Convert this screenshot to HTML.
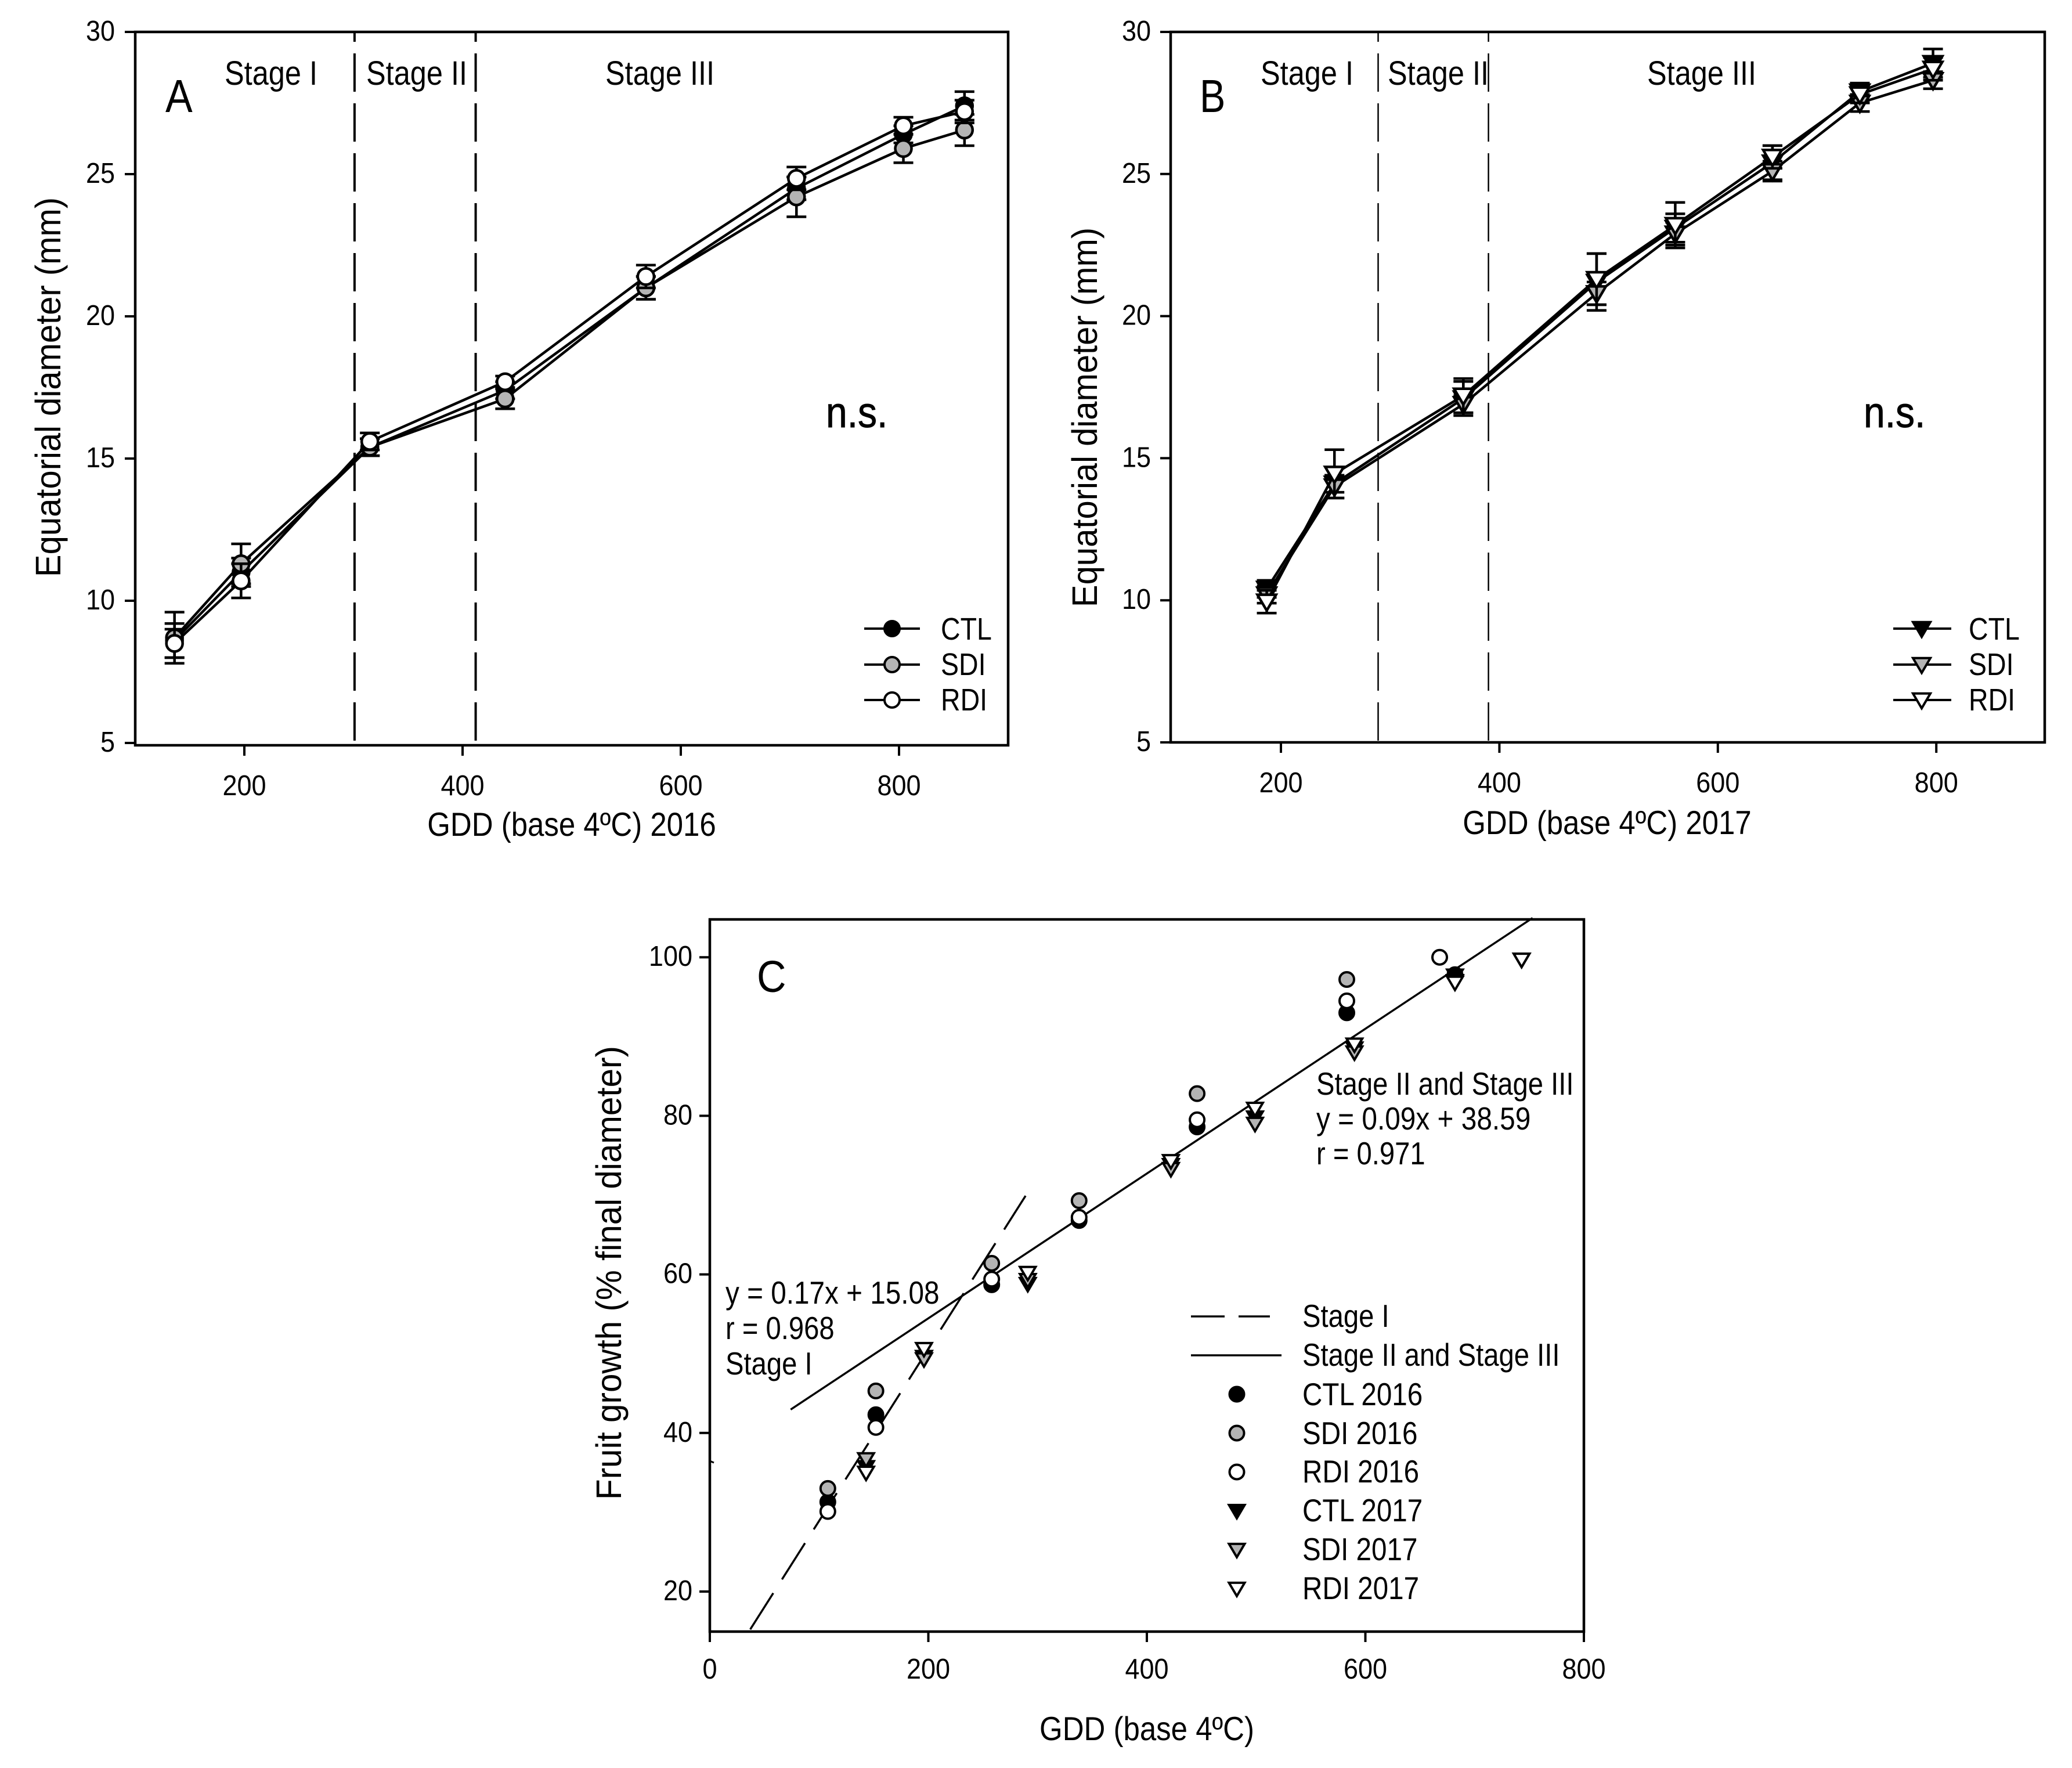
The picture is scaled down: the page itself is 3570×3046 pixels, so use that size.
<!DOCTYPE html>
<html>
<head>
<meta charset="utf-8">
<title>Fruit growth charts</title>
<style>
html,body{margin:0;padding:0;background:#fff;}
svg{display:block;}
text{font-family:"Liberation Sans",Arial,sans-serif;fill:#000;}
</style>
</head>
<body>
<svg id="fig" xmlns="http://www.w3.org/2000/svg" width="3570" height="3046" viewBox="0 0 3570 3046">
<rect width="3570" height="3046" fill="#fff"/>
<g id="A"></g>
<g id="B"></g>
<g id="C"></g>

<text transform="translate(285,193) scale(1,1.14)" font-size="70">A</text>
<text transform="translate(387,146) scale(1,1.15)" font-size="50.5">Stage I</text>
<text transform="translate(631,146) scale(1,1.15)" font-size="50.5">Stage II</text>
<text transform="translate(1043,146) scale(1,1.15)" font-size="50.5">Stage III</text>
<text transform="translate(1423,736) scale(1,1.12)" font-size="66" stroke="#000" stroke-width="0.8">n.s.</text>
<text transform="translate(985,1440) scale(1,1.12)" font-size="51" text-anchor="middle">GDD (base 4ºC) 2016</text>
<text transform="translate(104,667) rotate(-90) scale(1,1.05)" font-size="58" text-anchor="middle">Equatorial diameter (mm)</text>
<text transform="translate(1621,1102) scale(1,1.15)" font-size="46.5">CTL</text>
<text transform="translate(1621,1163) scale(1,1.15)" font-size="46.5">SDI</text>
<text transform="translate(1621,1224) scale(1,1.15)" font-size="46.5">RDI</text>

<text transform="translate(2067,193) scale(0.95,1.14)" font-size="70">B</text>
<text transform="translate(2172,146) scale(1,1.15)" font-size="50.5">Stage I</text>
<text transform="translate(2391,146) scale(1,1.15)" font-size="50.5">Stage II</text>
<text transform="translate(2838,146) scale(1,1.15)" font-size="50.5">Stage III</text>
<text transform="translate(3211,736) scale(1,1.12)" font-size="66" stroke="#000" stroke-width="0.8">n.s.</text>
<text transform="translate(2769,1437) scale(1,1.12)" font-size="51" text-anchor="middle">GDD (base 4ºC) 2017</text>
<text transform="translate(1890,719) rotate(-90) scale(1,1.05)" font-size="58" text-anchor="middle">Equatorial diameter (mm)</text>
<text transform="translate(3392,1102) scale(1,1.15)" font-size="46.5">CTL</text>
<text transform="translate(3392,1163) scale(1,1.15)" font-size="46.5">SDI</text>
<text transform="translate(3392,1224) scale(1,1.15)" font-size="46.5">RDI</text>

<text transform="translate(1304,1709) scale(1,1.1)" font-size="70">C</text>
<text transform="translate(2268,1886) scale(1,1.15)" font-size="47.2">Stage II and Stage III</text>
<text transform="translate(2268,1946) scale(1,1.15)" font-size="47.8">y = 0.09x + 38.59</text>
<text transform="translate(2268,2006) scale(1,1.15)" font-size="47.2">r = 0.971</text>
<text transform="translate(1250,2246) scale(1,1.15)" font-size="47.7">y = 0.17x + 15.08</text>
<text transform="translate(1250,2307) scale(1,1.15)" font-size="47.2">r = 0.968</text>
<text transform="translate(1250,2368) scale(1,1.15)" font-size="47.2">Stage I</text>
<text transform="translate(1976,2998) scale(1,1.12)" font-size="51" text-anchor="middle">GDD (base 4ºC)</text>
<text transform="translate(1070,2193) rotate(-90) scale(1,1.05)" font-size="58.4" text-anchor="middle">Fruit growth (% final diameter)</text>
<text transform="translate(2244,2286) scale(1,1.15)" font-size="47.2">Stage I</text>
<text transform="translate(2244,2353) scale(1,1.15)" font-size="47.2">Stage II and Stage III</text>
<text transform="translate(2244,2421) scale(1,1.15)" font-size="47.6">CTL 2016</text>
<text transform="translate(2244,2488) scale(1,1.15)" font-size="47.6">SDI 2016</text>
<text transform="translate(2244,2554) scale(1,1.15)" font-size="47.6">RDI 2016</text>
<text transform="translate(2244,2621) scale(1,1.15)" font-size="47.6">CTL 2017</text>
<text transform="translate(2244,2688) scale(1,1.15)" font-size="47.6">SDI 2017</text>
<text transform="translate(2244,2755) scale(1,1.15)" font-size="47.6">RDI 2017</text>
</svg>

<script>
// Panel A (2016)
var gddA = [136, 197, 315, 439, 568, 706, 804, 860];
var ctlA = [8.6, 11.0, 15.4, 17.4, 21.0, 24.5, 26.4, 27.4];
var sdiA = [8.7, 11.3, 15.4, 17.1, 21.0, 24.2, 25.9, 26.55];
var rdiA = [8.5, 10.7, 15.6, 17.7, 21.4, 24.85, 26.7, 27.2];
var ctlErrA = [0.6, 0.5, 0.3, 0.3, 0.4, 0.4, 0.3, 0.5];
var sdiErrA = [0.9, 0.7, 0.3, 0.35, 0.4, 0.7, 0.5, 0.55];
var rdiErrA = [0.5, 0.6, 0.3, 0.2, 0.4, 0.4, 0.3, 0.4];
var stageBoundsA = [301, 412];

// Panel B (2017)
var gddB = [187, 249, 367, 489, 561, 650, 730, 797];
var ctlB = [10.4, 14.1, 17.1, 21.2, 23.1, 25.4, 27.9, 28.9];
var sdiB = [10.2, 14.0, 16.9, 20.8, 22.9, 25.1, 27.5, 28.3];
var rdiB = [9.95, 14.45, 17.2, 21.3, 23.2, 25.6, 27.8, 28.7];
var ctlErrB = [0.3, 0.3, 0.6, 1.0, 0.5, 0.6, 0.3, 0.5];
var sdiErrB = [0.3, 0.4, 0.3, 0.4, 0.4, 0.35, 0.3, 0.3];
var rdiErrB = [0.4, 0.85, 0.6, 0.9, 0.8, 0.4, 0.3, 0.4];
var stageBoundsB = [289, 390];

var xTicksAB = [200, 400, 600, 800];
var yTicksAB = [5, 10, 15, 20, 25, 30];

// Panel C
var gdd2016 = [108, 152, 258, 338, 446, 583, 682];
var ctl2016 = [31.3, 42.3, 58.7, 66.8, 78.6, 93, 97.8];
var sdi2016 = [33, 45.3, 61.4, 69.3, 82.8, 97.2];
var rdi2016 = [30.1, 40.7, 59.4, 67.2, 79.5, 94.5];
var rdi2016LastX = [668];
var rdi2016LastY = [100];
var gdd2017 = [143, 196, 291, 422, 499, 590, 682, 743];
var ctl2017 = [35.7, 49.6, 58.8, 73.8, 79.8, 88.5, 97.7, 99.7];
var sdi2017 = [36.7, 49.3, 59.3, 73.3, 79, 88, 97, 99.7];
var rdi2017 = [35, 50.6, 60.2, 74.3, 80.9, 89, 96.8, 99.7];
var fitStage1 = [0.217, 7.2, 37, 289];
var fitStage23 = [0.0913, 36.2, 74, 753];
var xTicksC = [0, 200, 400, 600, 800];
var yTicksC = [20, 40, 60, 80, 100];

var NS = 'http://www.w3.org/2000/svg';
function mk(parent, tag, attrs) {
  var e = document.createElementNS(NS, tag);
  for (var k in attrs) e.setAttribute(k, attrs[k]);
  parent.appendChild(e);
  return e;
}
function ln(parent, x1, y1, x2, y2, w, dash, off) {
  var a = {x1: x1, y1: y1, x2: x2, y2: y2, stroke: '#000', 'stroke-width': w};
  if (dash) a['stroke-dasharray'] = dash;
  if (off) a['stroke-dashoffset'] = off;
  return mk(parent, 'line', a);
}
function txt(parent, x, y, s, size, anchor, sy) {
  var t = mk(parent, 'text', {transform: 'translate(' + x + ',' + y + ') scale(1,' + sy + ')', 'font-size': size, 'text-anchor': anchor});
  t.textContent = s;
  return t;
}
function marker(parent, kind, cx, cy, fill, r, w) {
  if (kind === 'circle') {
    return mk(parent, 'circle', {cx: cx, cy: cy, r: r, fill: fill, stroke: '#000', 'stroke-width': w});
  }
  var h = r * 1.0;
  var pts = (cx - r) + ',' + (cy - h * 0.75) + ' ' + (cx + r) + ',' + (cy - h * 0.75) + ' ' + cx + ',' + (cy + h * 0.95);
  return mk(parent, 'polygon', {points: pts, fill: fill, stroke: '#000', 'stroke-width': w, 'stroke-linejoin': 'miter'});
}

function drawFrame(g, box, xs, ys, xTicks, yTicks, xLabelBase, yLabelEnd, prefix) {
  var fr = mk(g, 'rect', {x: box.l, y: box.t, width: box.r - box.l, height: box.b - box.t, fill: 'none', stroke: '#000', 'stroke-width': 4.5});
  
  
  xTicks.forEach(function (v) {
    var tk = ln(g, xs(v), box.b, xs(v), box.b + 18, 4);
    
    
    var lb = txt(g, xs(v), xLabelBase, String(v), 45, 'middle', 1.1);
    
    
  });
  yTicks.forEach(function (v) {
    var tk = ln(g, box.l - 18, ys(v), box.l, ys(v), 4);
    
    
    var lb = txt(g, yLabelEnd, ys(v) + 15, String(v), 45, 'end', 1.1);
    
    
  });
}

function drawSeries(g, name, kind, fill, xsData, vals, errs, xs, ys) {
  var pts = xsData.map(function (x, i) { return xs(x) + ',' + ys(vals[i]); }).join(' ');
  var pl = mk(g, 'polyline', {points: pts, fill: 'none', stroke: '#000', 'stroke-width': 4.5});
  
  
  xsData.forEach(function (x, i) {
    var px = xs(x), hi = ys(vals[i] + errs[i]), lo = ys(vals[i] - errs[i]);
    var eb = mk(g, 'path', {d: 'M' + px + ' ' + hi + 'V' + lo + 'M' + (px - 17) + ' ' + hi + 'H' + (px + 17) + 'M' + (px - 17) + ' ' + lo + 'H' + (px + 17), fill: 'none', stroke: '#000', 'stroke-width': 4.5});
    
    
  });
  xsData.forEach(function (x, i) {
    var m = marker(g, kind, xs(x), ys(vals[i]), fill, kind === 'circle' ? 14 : 16, 4.5);
    
    
  });
}

function legendRow(g, x1, x2, mx, y, kind, fill, name) {
  var l = ln(g, x1, y, x2, y, 4);
  
  
  var m = marker(g, kind, mx, y, fill, kind === 'circle' ? 13 : 15, 4);
  
  
}

// ---- Panel A
(function () {
  var g = document.getElementById('A');
  var box = {l: 233, r: 1737, t: 55, b: 1284};
  var xs = function (v) { return 421 + (v - 200) * 1.88; };
  var ys = function (v) { return 1280 - (v - 5) * 49; };
  stageBoundsA.forEach(function (v) {
    var d = ln(g, xs(v), box.t, xs(v), box.b, 4, '66 20', 49);
    
    
  });
  drawFrame(g, box, xs, ys, xTicksAB, yTicksAB, 1370, 198, 'panel-a');
  drawSeries(g, 'ctl-2016', 'circle', '#000', gddA, ctlA, ctlErrA, xs, ys);
  drawSeries(g, 'sdi-2016', 'circle', '#b4b4b4', gddA, sdiA, sdiErrA, xs, ys);
  drawSeries(g, 'rdi-2016', 'circle', '#fff', gddA, rdiA, rdiErrA, xs, ys);
  legendRow(g, 1489, 1585, 1537, 1083, 'circle', '#000', 'ctl-2016');
  legendRow(g, 1489, 1585, 1537, 1145, 'circle', '#b4b4b4', 'sdi-2016');
  legendRow(g, 1489, 1585, 1537, 1206, 'circle', '#fff', 'rdi-2016');
})();

// ---- Panel B
(function () {
  var g = document.getElementById('B');
  var box = {l: 2017, r: 3523, t: 55, b: 1279};
  var xs = function (v) { return 2207 + (v - 200) * 1.882; };
  var ys = function (v) { return 1279 - (v - 5) * 48.96; };
  stageBoundsB.forEach(function (v) {
    var d = ln(g, xs(v), box.t, xs(v), box.b, 2.5, '66 20', 49);
    
    
  });
  drawFrame(g, box, xs, ys, xTicksAB, yTicksAB, 1365, 1983, 'panel-b');
  drawSeries(g, 'ctl-2017', 'tri', '#000', gddB, ctlB, ctlErrB, xs, ys);
  drawSeries(g, 'sdi-2017', 'tri', '#b4b4b4', gddB, sdiB, sdiErrB, xs, ys);
  drawSeries(g, 'rdi-2017', 'tri', '#fff', gddB, rdiB, rdiErrB, xs, ys);
  legendRow(g, 3262, 3362, 3311, 1083, 'tri', '#000', 'ctl-2017');
  legendRow(g, 3262, 3362, 3311, 1145, 'tri', '#b4b4b4', 'sdi-2017');
  legendRow(g, 3262, 3362, 3311, 1206, 'tri', '#fff', 'rdi-2017');
})();

// ---- Panel C
(function () {
  var g = document.getElementById('C');
  var box = {l: 1223, r: 2729, t: 1584, b: 2811};
  var xs = function (v) { return 1223 + v * 1.8825; };
  var ys = function (v) { return 2742 - (v - 20) * 13.66; };
  drawFrame(g, box, xs, ys, xTicksC, yTicksC, 2892, 1193, 'panel-c');

  var stray = ln(g, 1223, 2517, 1230, 2520, 3);
  
  

  var f1 = ln(g, xs(fitStage1[2]), ys(fitStage1[0] * fitStage1[2] + fitStage1[1]), xs(fitStage1[3]), ys(fitStage1[0] * fitStage1[3] + fitStage1[1]), 3.5, '74 28');
  
  
  var f2 = ln(g, xs(fitStage23[2]), ys(fitStage23[0] * fitStage23[2] + fitStage23[1]), xs(fitStage23[3]), ys(fitStage23[0] * fitStage23[3] + fitStage23[1]), 3.5);
  
  

  function pts(name, kind, fill, xd, yd) {
    yd.forEach(function (v, i) {
      var m = marker(g, kind, xs(xd[i]), ys(v), fill, kind === 'circle' ? 12.5 : 13.5, 4);
      
      
    });
  }
  pts('ctl-2016', 'circle', '#000', gdd2016, ctl2016);
  pts('sdi-2016', 'circle', '#b4b4b4', gdd2016, sdi2016);
  pts('rdi-2016', 'circle', '#fff', gdd2016, rdi2016);
  pts('rdi-2016', 'circle', '#fff', rdi2016LastX, rdi2016LastY);
  pts('ctl-2017', 'tri', '#000', gdd2017, ctl2017);
  pts('sdi-2017', 'tri', '#b4b4b4', gdd2017, sdi2017);
  pts('rdi-2017', 'tri', '#fff', gdd2017, rdi2017);

  var l1 = ln(g, 2052, 2268, 2188, 2268, 3.5, '58 24');
  
  
  var l2 = ln(g, 2052, 2335, 2208, 2335, 3.5);
  
  
  var rows = [[2402, 'circle', '#000', 'ctl-2016'], [2469, 'circle', '#b4b4b4', 'sdi-2016'], [2536, 'circle', '#fff', 'rdi-2016'], [2603, 'tri', '#000', 'ctl-2017'], [2670, 'tri', '#b4b4b4', 'sdi-2017'], [2737, 'tri', '#fff', 'rdi-2017']];
  rows.forEach(function (r) {
    var m = marker(g, r[1], 2131, r[0], r[2], r[1] === 'circle' ? 12.5 : 13.5, 4);
    
    
  });
})();
</script>
</body>
</html>
